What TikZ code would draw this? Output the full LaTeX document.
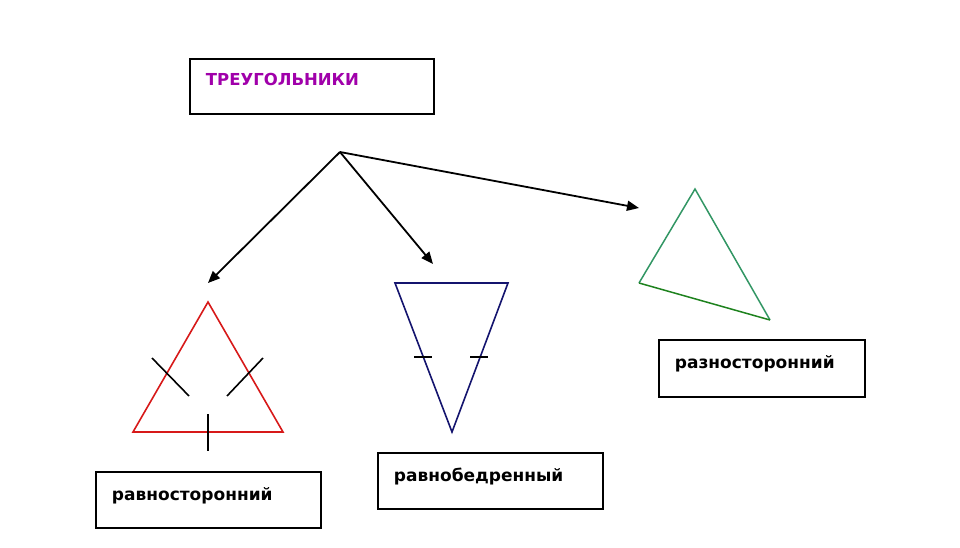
\documentclass[tikz,border=0pt]{standalone}
\usepackage{fontspec}
\setmainfont{DejaVu Sans}
\usetikzlibrary{arrows.meta}
\definecolor{titlepurple}{RGB}{160,0,170}
\definecolor{trired}{RGB}{215,25,25}
\definecolor{triblue}{RGB}{20,20,110}
\definecolor{trigreen}{RGB}{50,150,100}
\definecolor{basegreen}{RGB}{30,130,30}
\tikzset{
  namebox/.style={draw, line width=1.9pt, anchor=north west, inner xsep=16pt,
    align=left, text depth=12pt, font=\bfseries\fontsize{17}{20}\selectfont},
  pointer/.style={line width=1.8pt, -{Triangle[length=12pt,width=10pt]}},
  tick/.style={line width=1.6pt},
}
\begin{document}
\begin{tikzpicture}[x=1pt,y=-1pt]
\useasboundingbox (0,0) rectangle (960,548);

% boxes
\node[namebox, minimum width=244pt, minimum height=55pt, text width=212pt,
  font=\bfseries\fontsize{16.5}{20}\selectfont, text depth=14pt, text=titlepurple] (title) at (189,58) {ТРЕУГОЛЬНИКИ};
\node[namebox, minimum width=225pt, minimum height=56pt, text width=193pt] (equi) at (95,471) {равносторонний};
\node[namebox, minimum width=225pt, minimum height=56pt, text width=193pt] (isos) at (377,452) {равнобедренный};
\node[namebox, minimum width=206pt, minimum height=57pt, text width=174pt] (scal) at (658,339) {разносторонний};

% arrows
\coordinate (hub) at (340,152);
\coordinate (toequi) at (208,283);
\coordinate (toisos) at (433,264);
\coordinate (toscal) at (639,208);
\draw[pointer] (hub) -- (toequi);
\draw[pointer] (hub) -- (toisos);
\draw[pointer] (hub) -- (toscal);

% equilateral
\draw[trired, line width=1.6pt] (208,302) -- (283,432) -- (133,432) -- cycle;
\draw[tick] (152,358) -- (189,396);
\draw[tick] (227,396) -- (263,358);
\draw[tick] (208,414) -- (208,451);

% isosceles
\draw[triblue, line width=1.6pt] (395,283) -- (508,283) -- (452,432) -- cycle;
\draw[tick] (414,357) -- (432,357);
\draw[tick] (470,357) -- (488,357);

% scalene
\draw[trigreen, line width=1.5pt] (639,283) -- (695,189) -- (770,320);
\draw[basegreen, line width=1.5pt] (639,283) -- (770,320);

\end{tikzpicture}
\end{document}
